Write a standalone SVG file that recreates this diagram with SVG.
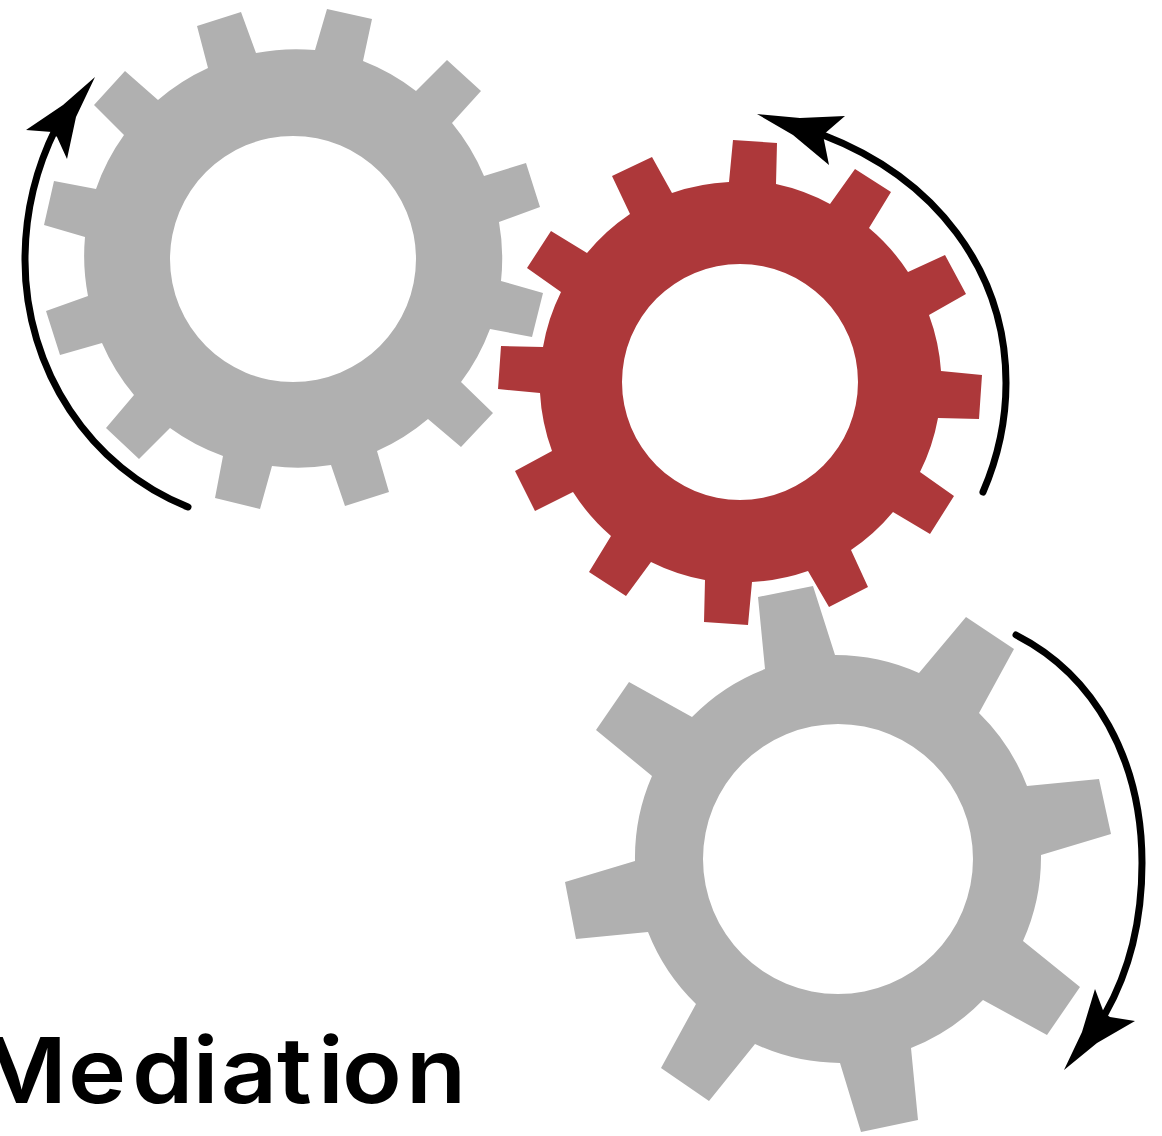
<svg xmlns="http://www.w3.org/2000/svg" width="1162" height="1136" viewBox="0 0 1162 1136">
<style>
.gray{fill:#b0b0b0;fill-rule:evenodd}
.red{fill:#ad383a;fill-rule:evenodd}
.arc{fill:none;stroke:#000;stroke-width:7;stroke-linecap:round}
.head{fill:#000}
.label{font-family:"Inter","Liberation Sans",sans-serif;font-size:91px;font-weight:560;fill:#000;font-variant-ligatures:none}
</style>
<g id="gear-top-left"><path class="gray" d="M208,68L197,26L241,12L256,53A209,209 0 0 1 315,50L327,9L372,19L363,61A209,209 0 0 1 416,91L447,60L481,91L452,123A209,209 0 0 1 484,176L526,163L540,207L499,222A209,209 0 0 1 501,281L543,293L532,337L490,329A209,209 0 0 1 461,382L493,413L461,447L428,419A209,209 0 0 1 377,451L389,492L345,506L331,465A209,209 0 0 1 272,466L260,509L215,498L223,456A209,209 0 0 1 170,428L139,459L106,428L134,395A209,209 0 0 1 102,343L60,355L46,311L88,296A209,209 0 0 1 85,237L44,225L54,181L96,189A209,209 0 0 1 124,135L94,105L125,71L158,100A209,209 0 0 1 208,68ZM416,259A123,123 0 1 0 170,259A123,123 0 1 0 416,259Z"/></g>
<g id="gear-center"><path class="red" d="M729,182L733,140L777,143L776,184A200,200 0 0 1 830,204L855,169L891,192L869,228A200,200 0 0 1 908,272L945,255L966,294L929,315A200,200 0 0 1 941,371L982,375L979,419L938,418A200,200 0 0 1 920,472L954,496L930,534L893,512A200,200 0 0 1 851,550L868,587L829,607L808,571A200,200 0 0 1 752,582L748,625L704,622L705,580A200,200 0 0 1 651,562L626,596L589,572L611,536A200,200 0 0 1 573,492L535,511L515,471L552,451A200,200 0 0 1 540,393L498,389L501,346L543,347A200,200 0 0 1 561,292L527,268L551,231L587,253A200,200 0 0 1 630,214L612,176L652,157L672,193A200,200 0 0 1 729,182ZM858,382A118,118 0 1 0 622,382A118,118 0 1 0 858,382Z"/></g>
<g id="gear-bottom-right"><path class="gray" d="M765,669L758,597L813,586L835,655A204,204 0 0 1 919,673L966,617L1014,649L979,713A204,204 0 0 1 1027,786L1099,779L1111,834L1041,855A204,204 0 0 1 1023,941L1080,987L1047,1035L983,1000A204,204 0 0 1 911,1048L918,1120L861,1132L840,1063A204,204 0 0 1 755,1044L709,1101L661,1068L696,1004A204,204 0 0 1 648,932L576,939L565,882L635,861A204,204 0 0 1 652,776L596,730L629,682L692,717A204,204 0 0 1 765,669ZM973,859A135,135 0 1 0 703,859A135,135 0 1 0 973,859Z"/></g>
<g id="connectors">
<path class="arc" d="M188,507C90,468 25,370 25,260C25,215 35,170 56,128"/>
<polygon class="head" points="95,77 63,105 26,130 52,132 57,137 67,159 76,117"/>
<path class="arc" d="M983,492C999,455 1006,420 1006,383C1006,270 935,178 823,135"/>
<polygon class="head" points="757,114 800,118 845,116 823,135 829,165 793,135"/>
<path class="arc" d="M1016,635C1095,675 1142,760 1142,863C1142,920 1130,970 1105,1014"/>
<polygon class="head" points="1064,1070 1097,1043 1135,1021 1110,1017 1104,1013 1095,989 1082,1032"/>
</g>
<g id="title"><text class="label" transform="scale(1.08 1)" x="-22 63 122.2 178.5 204.5 256.5 294.5 316.7 375.9" y="1103">Mediation</text></g>
</svg>
